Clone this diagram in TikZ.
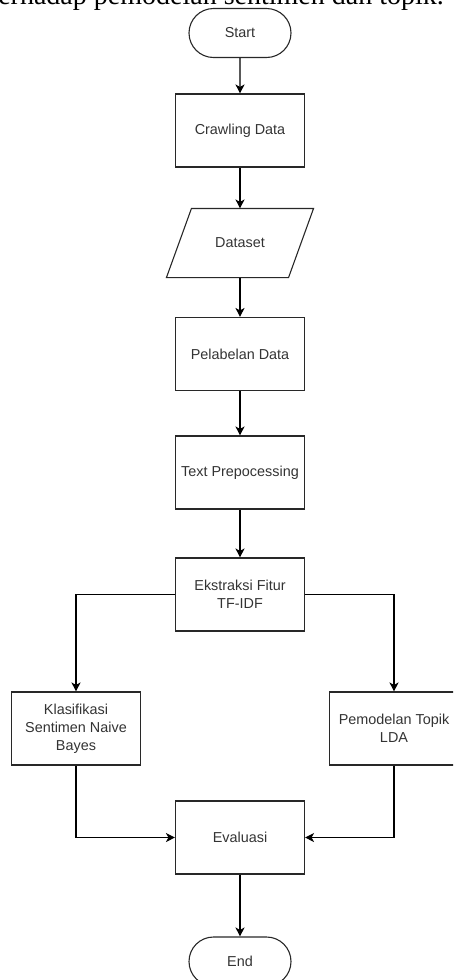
\documentclass[tikz,border=0pt]{standalone}
\usepackage{fontspec}
\setmainfont{Liberation Sans}
\newfontfamily\textserif{Liberation Serif}
\usepackage{tikz}
\usetikzlibrary{calc,shapes.geometric,shapes.misc,arrows.meta,positioning}
\definecolor{garis}{RGB}{40,40,40}
\definecolor{teks}{RGB}{51,51,51}

\begin{document}
\begin{tikzpicture}[x=1pt, y=-1pt,
  bingkai/.style={draw=garis, line width=1.1pt},
  proses/.style={bingkai, minimum width=129pt, minimum height=73pt,
    align=center, text=teks, inner sep=2pt, font=\fontsize{14.4}{17.8}\selectfont},
  terminal/.style={proses, rounded rectangle, minimum width=106pt, minimum height=49pt},
  io/.style={proses, draw=none, minimum width=121pt, minimum height=68pt},
  panah/.style={-{Stealth[length=9pt,width=9pt,inset=2.5pt]}, line width=1.2pt, black}]

\useasboundingbox (0,0) rectangle (453,980);
\clip (0,0) rectangle (453,980);

% baris kalimat di atas bagan
\node (judul) [anchor=base east, inner sep=0pt, font=\textserif\fontsize{28}{33}\selectfont] at (444,4) {terhadap pemodelan sentimen dan topik.};

\node (start) [terminal] at (240,33) {Start};
\node (crawl) [proses] at (240,130.5) {Crawling Data};
\node (data) [io] at (240,243) {Dataset};
\node (label) [proses] at (240,354) {Pelabelan Data};
\node (prep) [proses] at (240,472.5) {Text Prepocessing};
\node (fitur) [proses] at (240,594.5) {Ekstraksi Fitur\\TF-IDF};

\node (nb) [proses] at (76,728.5) {Klasifikasi\\Sentimen Naive\\Bayes};
\node (lda) [proses] at (394,728.5) {Pemodelan Topik\\LDA};

\node (eval) [proses] at (240,837.5) {Evaluasi};
\node (stop) [terminal] at (240,961.5) {End};

% jajaran genjang untuk data masukan
\draw [bingkai] ([xshift=12.5pt]data.north west) -- ([xshift=12.5pt]data.north east)
  -- ([xshift=-12.5pt]data.south east) -- ([xshift=-12.5pt]data.south west) -- cycle;

\path [panah]
    (start) edge (crawl)
    (crawl) edge (data)
    (data) edge (label)
    (label) edge (prep)
    (prep) edge (fitur)
    (eval) edge (stop);

% percabangan ke dua model lalu kembali ke evaluasi
\draw [panah] (fitur.west) -| (nb.north);
\draw [panah] (fitur.east) -| (lda.north);
\draw [panah] (nb.south) |- (eval.west);
\draw [panah] (lda.south) |- (eval.east);

\end{tikzpicture}
\end{document}
